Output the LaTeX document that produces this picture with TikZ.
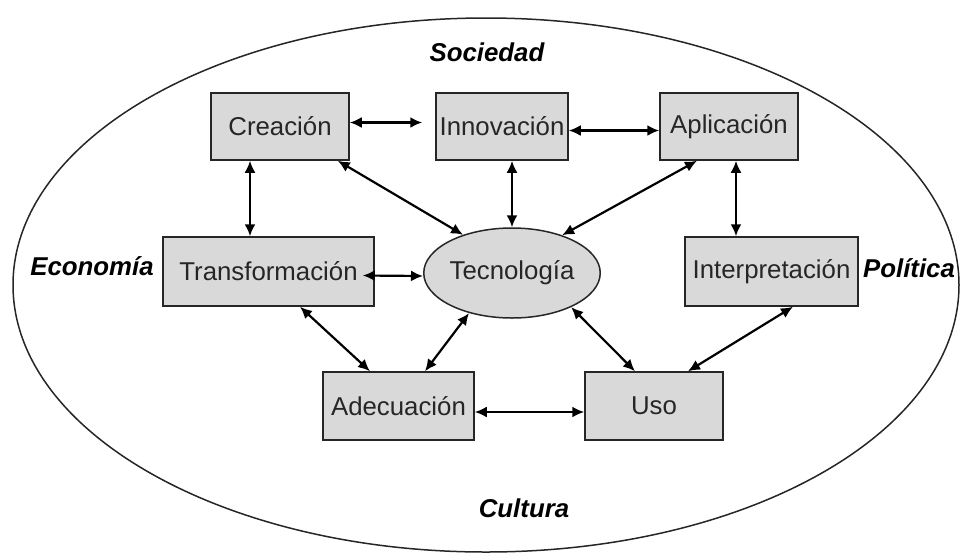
\documentclass[tikz,border=0pt]{standalone}
\usepackage{fontspec}
\setmainfont{Liberation Sans}
\usetikzlibrary{shapes.geometric, arrows.meta}

\begin{document}
\begin{tikzpicture}[x=0.5pt, y=-0.5pt,
    box/.style={draw=black!85, line width=0.75pt, fill=black!15, text=black!85,
        minimum width=69pt, minimum height=33.5pt, inner sep=0pt,
        font=\fontsize{12.9}{15}\selectfont},
    core/.style={box, ellipse, minimum width=87pt, minimum height=45pt},
    area/.style={font=\fontsize{12.9}{15}\selectfont\bfseries\itshape},
    link/.style={{Latex[length=6pt,width=5.5pt]}-{Latex[length=6pt,width=5.5pt]}, line width=1.1pt}]
    \useasboundingbox (0,0) rectangle (960,553);

    % Society
    \draw[line width=0.75pt, black!85] (486,285) ellipse [x radius=473, y radius=267];
    \node[area] (soc) at (487,52) {Sociedad};
    \node[area] (eco) at (92,266) {Economía};
    \node[area] (pol) at (909,268) {Política};
    \node[area] (cul) at (524,508) {Cultura};

    % Boxes
    \node[box] (crea) at (280,126.5) {Creación};
    \node[box, minimum width=66pt] (inno) at (502,126.5) {Innovación};
    \node[box] (apli) at (729,126.5) {Aplicación};
    \node[box, minimum width=105.5pt, minimum height=34.5pt] (trans) at (268.5,271.5) {Transformación};
    \node[core] (tech) at (512,273) {Tecnología};
    \node[box, minimum width=86.5pt, minimum height=34.5pt] (interp) at (771.5,271.5) {Interpretación};
    \node[box, minimum width=75.5pt, minimum height=34pt] (adec) at (398.5,406) {Adecuación};
    \node[box, minimum height=34pt] (uso) at (654,406) {Uso};

    % Top row
    \draw[link] ([yshift=2pt]crea.east) -- ([xshift=-6.5pt,yshift=2pt]inno.west);
    \draw[link] ([yshift=-2pt]inno.east) -- ([yshift=-2pt]apli.west);

    % Verticals
    \draw[link] ([xshift=-15pt]crea.south) -- ([xshift=-15pt]crea.south |- trans.north);
    \draw[link] (tech.north |- inno.south) -- (tech.north);
    \draw[link] ([xshift=3.5pt]apli.south) -- ([xshift=3.5pt]apli.south |- interp.north);

    % Into the core
    \draw[link] ([xshift=-6pt]crea.south east) -- (tech.142);
    \draw[link] ([xshift=-16pt]apli.south) -- (tech.37);
    \draw[link] ([xshift=-6pt,yshift=-2pt]trans.east) -- ([yshift=-1.5pt]tech.west);
    \draw[link] ([xshift=13.25pt]adec.north) -- (tech.223);
    \draw[link] (tech.-30) -- ([xshift=-9.5pt]uso.north);

    % Lower links
    \draw[link] ([xshift=15.75pt]trans.south) -- ([xshift=-14.25pt]adec.north);
    \draw[link] ([xshift=10.75pt]interp.south) -- ([xshift=17pt]uso.north);
    \draw[link] ([yshift=-3pt]adec.east) -- ([yshift=-3pt]uso.west);
\end{tikzpicture}
\end{document}
